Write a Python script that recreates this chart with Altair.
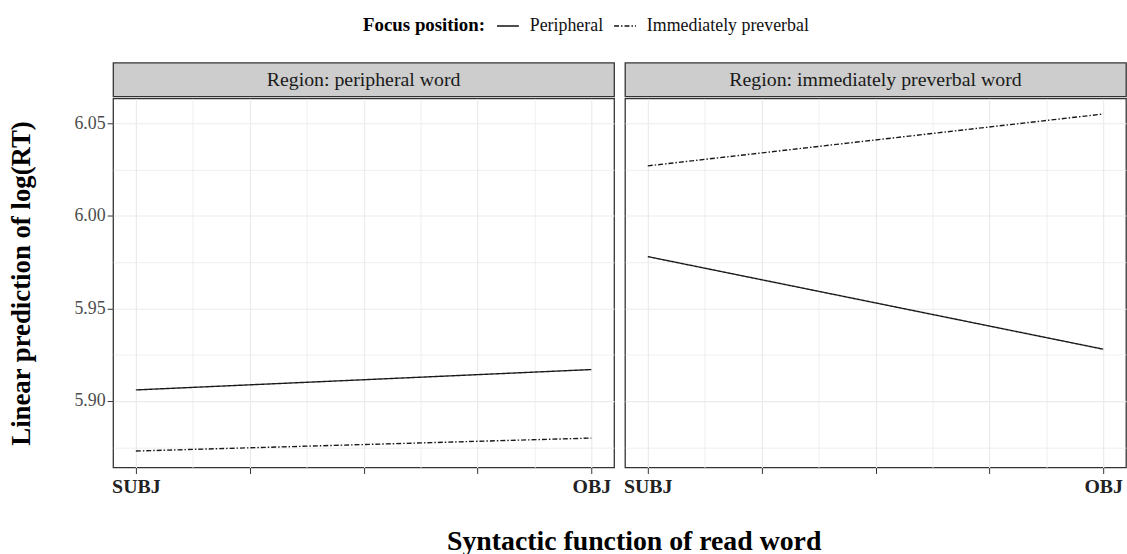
import altair as alt
import pandas as pd

FONT = "Liberation Serif"

# Facet strips and legend levels
regions = ["Region: peripheral word", "Region: immediately preverbal word"]
focus_levels = ["Peripheral", "Immediately preverbal"]
functions = ["SUBJ", "OBJ"]
function_pos = [1, 2]

# Predicted log(RT) at SUBJ and OBJ for each focus position
peripheral_region_peripheral = [5.906, 5.917]
peripheral_region_preverbal = [5.873, 5.880]
preverbal_region_peripheral = [5.978, 5.928]
preverbal_region_preverbal = [6.027, 6.055]

# Axis breaks (major and minor)
x_breaks = [1, 1.125, 1.25, 1.375, 1.5, 1.625, 1.75, 1.875, 2]
y_breaks = [5.875, 5.90, 5.925, 5.95, 5.975, 6.00, 6.025, 6.05]

PANEL_W = 505
PANEL_H = 372
STRIP_H = 34
BORDER = "#333333"


def region_frame(peripheral, preverbal):
    rows = []
    for focus, vals in zip(focus_levels, [peripheral, preverbal]):
        for pos, fn, v in zip(function_pos, functions, vals):
            rows.append({"focus": focus, "pos": pos, "function": fn, "rt": v})
    return pd.DataFrame(rows)


legend = alt.Legend(
    title="Focus position:",
    orient="none",
    direction="horizontal",
    titleOrient="left",
    legendX=252,
    legendY=-49,
    symbolType="stroke",
    symbolSize=484,
    symbolStrokeWidth=1.4,
    symbolStrokeColor="#111111",
    labelFont=FONT,
    labelFontSize=18,
    labelColor="#111111",
    labelLimit=0,
    titleFont=FONT,
    titleFontSize=19,
    titleFontWeight="bold",
    titleColor="#000000",
    titleLimit=0,
    titlePadding=11,
    columnPadding=8,
    labelOffset=10,
)

is_major_y = "abs(round(datum.value*20) - datum.value*20) < 0.001"
is_major_x = "abs(round(datum.value*4) - datum.value*4) < 0.001"


def panel(title, df, show_y):
    strip = (
        alt.Chart(pd.DataFrame({"label": [title]}))
        .mark_text(font=FONT, fontSize=20, color="#1a1a1a")
        .encode(text="label:N")
        .properties(
            width=PANEL_W,
            height=STRIP_H,
            view=alt.ViewBackground(fill="#CDCDCD", stroke=BORDER, strokeWidth=1.3),
        )
    )

    x_axis = alt.Axis(
        values=x_breaks,
        title=None,
        domain=False,
        labelExpr="datum.value == 1 ? 'SUBJ' : (datum.value == 2 ? 'OBJ' : '')",
        labelFont=FONT,
        labelFontSize=20,
        labelFontWeight="bold",
        labelColor="#222222",
        labelPadding=3,
        labelFlush=False,
        labelOverlap=False,
        tickSize=6,
        tickColor=BORDER,
        tickOpacity={"condition": {"test": is_major_x, "value": 1}, "value": 0},
        gridColor="#EBEBEB",
        gridWidth={"condition": {"test": is_major_x, "value": 1.2}, "value": 0.8},
    )

    if show_y:
        y_axis = alt.Axis(
            values=y_breaks,
            title="Linear prediction of log(RT)",
            titleFont=FONT,
            titleFontSize=27,
            titleFontWeight="bold",
            titleColor="#000000",
            titlePadding=39,
            domain=False,
            labelExpr=f"{is_major_y} ? format(datum.value, '.2f') : ''",
            labelFont=FONT,
            labelFontSize=18,
            labelColor="#4D4D4D",
            labelPadding=2,
            labelOverlap=False,
            tickSize=6,
            tickColor=BORDER,
            tickOpacity={"condition": {"test": is_major_y, "value": 1}, "value": 0},
            gridColor="#EBEBEB",
            gridWidth={"condition": {"test": is_major_y, "value": 1.2}, "value": 0.8},
        )
    else:
        y_axis = alt.Axis(
            values=y_breaks,
            title=None,
            domain=False,
            labels=False,
            ticks=False,
            gridColor="#EBEBEB",
            gridWidth={"condition": {"test": is_major_y, "value": 1.2}, "value": 0.8},
        )

    lines = (
        alt.Chart(df)
        .mark_line(color="#1a1a1a", strokeWidth=1.4)
        .encode(
            x=alt.X("pos:Q", axis=x_axis,
                    scale=alt.Scale(domain=[0.95, 2.05], nice=False, zero=False)),
            y=alt.Y("rt:Q", axis=y_axis,
                    scale=alt.Scale(domain=[5.8641, 6.0634], nice=False, zero=False)),
            strokeDash=alt.StrokeDash(
                "focus:N",
                scale=alt.Scale(domain=focus_levels, range=[[1, 0], [5, 2, 1.5, 2]]),
                legend=legend,
            ),
            detail="focus:N",
        )
        .properties(
            width=PANEL_W,
            height=PANEL_H,
            view=alt.ViewBackground(stroke=BORDER, strokeWidth=1.3, fill="white"),
        )
    )
    return alt.vconcat(strip, lines, spacing=0)


left = panel(regions[0], region_frame(peripheral_region_peripheral, peripheral_region_preverbal), True)
right = panel(regions[1], region_frame(preverbal_region_peripheral, preverbal_region_preverbal), False)

chart = (
    alt.hconcat(left, right, spacing=7)
    .resolve_scale(strokeDash="shared")
    .resolve_legend(strokeDash="shared")
    .properties(
        title=alt.TitleParams(
            "Syntactic function of read word",
            orient="bottom",
            anchor="middle",
            font=FONT,
            fontSize=28,
            fontWeight="bold",
            color="#000000",
            offset=31,
            dx=68,
        ),
        padding={"left": 6, "top": 12, "right": 0, "bottom": 5},
        background="white",
    )
    .configure_view(stroke=BORDER, strokeWidth=1.3)
)

chart.save("out.html", embed_options={"renderer": "svg", "actions": False})
